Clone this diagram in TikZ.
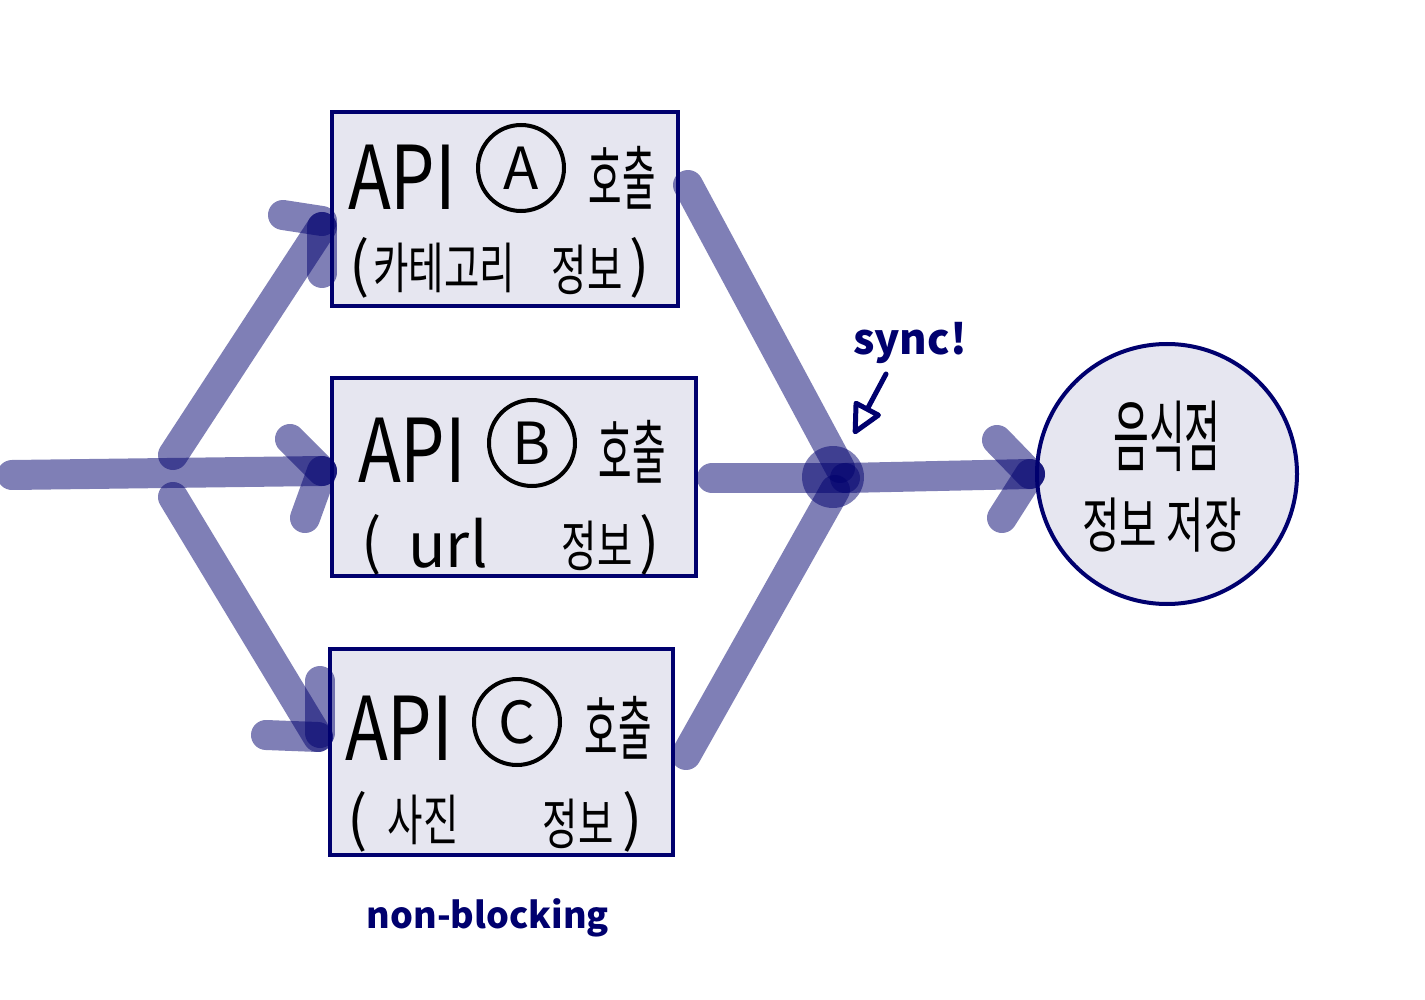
\documentclass[tikz,border=0pt]{standalone}
\usepackage{fontspec}
\usepackage{graphicx}
\setmainfont{Noto Sans CJK KR}
\usetikzlibrary{arrows.meta}
\definecolor{ink}{RGB}{0,0,110}
\definecolor{boxfill}{RGB}{230,230,240}
\newcommand\hx[2]{\scalebox{#1}[1]{#2}}
\newcommand\fs[1]{\fontsize{#1pt}{#1pt}\selectfont}
\tikzset{
  box/.style={draw=ink, line width=4pt, fill=boxfill, inner sep=0pt},
  stroke/.style={draw=ink, line width=30pt, line cap=round, line join=round, opacity=0.5},
  txt/.style={inner sep=0pt, text=black},
  circ/.style={circle, draw=black, line width=4pt, minimum size=86pt, inner sep=0pt, font=\fs{58}},
  note/.style={inner sep=0pt, text=ink, font=\bfseries\fs{42}},
}
\begin{document}
\begin{tikzpicture}[x=1pt,y=-1pt]
\useasboundingbox[fill=white] (0,0) rectangle (1425,1000);

% boxes
\node[box, minimum width=346pt, minimum height=194pt] (A) at (505,209) {};
\node[box, minimum width=364pt, minimum height=198pt] (B) at (514,477) {};
\node[box, minimum width=343pt, minimum height=206pt] (C) at (501.5,752) {};
\node[box, circle, minimum size=260pt] (D) at (1167,474) {};

% box A text
\node[txt, font=\fs{88}] (Aapi) at (402,177) {\hx{0.8}{API}};
\node[circ] (Acirc) at (521,168) {A};
\node[txt, font=\fs{70}] (Acall) at (622,178) {\hx{0.52}{호출}};
\node[txt, font=\fs{60}] (Alp) at (360,268) {(};
\node[txt, font=\fs{55}] (Acat) at (444,268) {\hx{0.7}{카테고리}};
\node[txt, font=\fs{55}] (Ainfo) at (587,270) {\hx{0.7}{정보}};
\node[txt, font=\fs{60}] (Arp) at (640,268) {)};

% box B text
\node[txt, font=\fs{88}] (Bapi) at (412,450) {\hx{0.8}{API}};
\node[circ] (Bcirc) at (532,443) {B};
\node[txt, font=\fs{70}] (Bcall) at (632,452) {\hx{0.52}{호출}};
\node[txt, font=\fs{60}] (Blp) at (372,545) {(};
\node[txt, font=\fs{62}] (Burl) at (448,543) {url};
\node[txt, font=\fs{55}] (Binfo) at (597,546) {\hx{0.7}{정보}};
\node[txt, font=\fs{60}] (Brp) at (650,545) {)};

% box C text
\node[txt, font=\fs{88}] (Capi) at (399,728) {\hx{0.8}{API}};
\node[circ] (Ccirc) at (517,722) {C};
\node[txt, font=\fs{70}] (Ccall) at (618,728) {\hx{0.52}{호출}};
\node[txt, font=\fs{60}] (Clp) at (358,822) {(};
\node[txt, font=\fs{55}] (Cpic) at (423,820) {\hx{0.7}{사진}};
\node[txt, font=\fs{55}] (Cinfo) at (578,824) {\hx{0.7}{정보}};
\node[txt, font=\fs{60}] (Crp) at (633,822) {)};

% circle text
\node[txt, font=\fs{78}] (Dl1) at (1167,436) {\hx{0.5}{음식점}};
\node[txt, font=\fs{60}] (Dl2) at (1162,525) {\hx{0.68}{정보 저장}};

% notes
\node[note] (sync) at (910,343) {sync!};
\node[note, font=\bfseries\fs{36}] (nb) at (488,918) {non-blocking};

% coordinates for the thick strokes
\coordinate (start) at (12,475);
\coordinate (sp1) at (173,455);
\coordinate (sp2) at (173,497);
\coordinate (aIn) at (322,227);
\coordinate (bIn) at (322,471);
\coordinate (cIn) at (318,737);
\coordinate (aOut) at (688,185);
\coordinate (bOut) at (712,478);
\coordinate (cOut) at (686,755);
\coordinate (j1) at (840,468);
\coordinate (j2) at (845,478);
\coordinate (j3) at (835,490);
\coordinate (jc) at (833,477);
\coordinate (dIn) at (1030,474);

% chevron arms
\coordinate (aH) at (283,215);
\coordinate (aHe) at (322,221);
\coordinate (aV) at (322,273);
\coordinate (bU) at (290,439);
\coordinate (bL) at (305,518);
\coordinate (cH) at (266,735);
\coordinate (cV) at (320,681);
\coordinate (cVe) at (320,733);
\coordinate (dU) at (997,440);
\coordinate (dL) at (1002,518);

% left side strokes
\draw[stroke] (start) -- (bIn);
\draw[stroke] (bU) -- (bIn);
\draw[stroke] (bIn) -- (bL);
\draw[stroke] (sp1) -- (aIn);
\draw[stroke] (aH) -- (aHe);
\draw[stroke] (aIn) -- (aV);
\draw[stroke] (sp2) -- (cIn);
\draw[stroke] (cH) -- (cIn);
\draw[stroke] (cV) -- (cVe);

% right side strokes
\draw[stroke] (aOut) -- (j1);
\draw[stroke] (bOut) -- (j2);
\draw[stroke] (cOut) -- (j3);
\fill[ink, opacity=0.5] (jc) circle (31pt);
\draw[stroke] (j2) -- (dIn);
\draw[stroke] (dU) -- (dIn);
\draw[stroke] (dIn) -- (dL);

% sync pointer
\coordinate (sp) at (886,374);
\coordinate (spEnd) at (854,434);
\draw[ink, line width=5pt, line cap=round, -{Triangle[open, length=34pt, width=32pt, round]}] (sp) -- (spEnd);
\end{tikzpicture}
\end{document}
